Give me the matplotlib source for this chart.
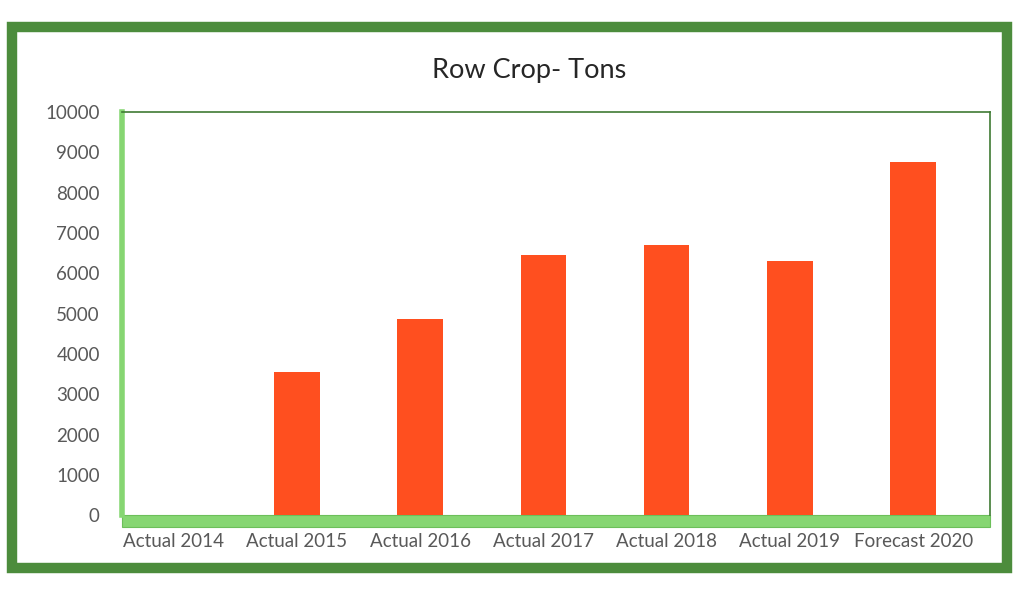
import matplotlib
matplotlib.use("Agg")
import matplotlib.pyplot as plt
from matplotlib.patches import Rectangle

# chart data
categories = ["Actual 2014", "Actual 2015", "Actual 2016", "Actual 2017",
              "Actual 2018", "Actual 2019", "Forecast 2020"]
tons = [0, 3550, 4870, 6450, 6700, 6300, 8750]
y_ticks = list(range(0, 10001, 1000))

BAR = "#ff4f1f"
FRAME = "#4c8c3c"
FLOOR = "#86d672"
TEXT = "#595959"

plt.rcParams['font.family'] = ['Lato', 'DejaVu Sans']

fig = plt.figure(figsize=(10.17, 5.89), dpi=100)
fig.patch.set_facecolor("white")

# outer green border
fig.patches.append(Rectangle((0.012, 0.035), 0.978, 0.92,
                             transform=fig.transFigure, fill=False,
                             edgecolor=FRAME, linewidth=7.5))

ax = fig.add_axes([0.12, 0.125, 0.853, 0.685])
x = list(range(len(categories)))
ax.bar(x, tons, width=0.37, color=BAR, zorder=3)

ax.set_xlim(-0.42, 6.62)
ax.set_ylim(0, 10000)
ax.set_yticks(y_ticks)
ax.set_xticks(x)
ax.set_xticklabels(categories)
ax.tick_params(axis="both", length=0, labelsize=13.5, colors=TEXT)
ax.tick_params(axis="y", pad=16)
ax.tick_params(axis="x", pad=13)

for side in ["top", "right"]:
    ax.spines[side].set_color("#3f7a33")
    ax.spines[side].set_linewidth(1.2)
ax.spines["left"].set_color(FLOOR)
ax.spines["left"].set_linewidth(4)
ax.spines["bottom"].set_visible(False)

# 3d-like floor under the bars
ax.add_patch(Rectangle((0, -0.03), 1.0, 0.03, transform=ax.transAxes,
                       facecolor=FLOOR, edgecolor="#6cbf5a", linewidth=0.8,
                       clip_on=False, zorder=2))

fig.text(0.52, 0.88, "Row Crop- Tons", ha="center", va="center",
         fontsize=19.5, color="#262626")

fig.savefig("out.png", dpi=100)
